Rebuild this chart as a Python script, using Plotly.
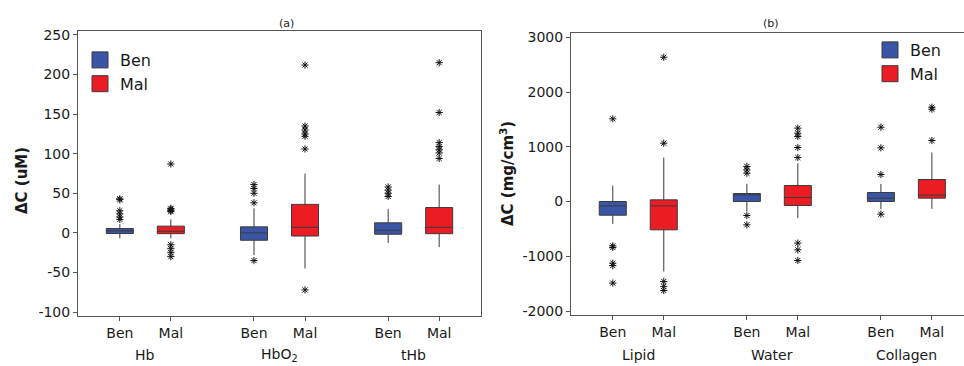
import plotly.graph_objects as go

# ---------------- data ----------------
groups = ["Ben", "Mal"]
left_categories = ["Hb", "HbO<sub>2</sub>", "tHb"]
right_categories = ["Lipid", "Water", "Collagen"]

# order: cat1 Ben, cat1 Mal, cat2 Ben, cat2 Mal, cat3 Ben, cat3 Mal
left_q1 = [-0.8, -1, -9.3, -4, -1.7, -1]
left_median = [2.5, 2, 0, 7, 3.4, 7]
left_q3 = [5.5, 8.5, 7.6, 36, 12.7, 32]
left_lower = [-7, -7, -28, -45, -12.7, -18]
left_upper = [11, 17, 31, 75, 30, 61]
left_outliers = [
    [43, 42, 28, 24, 20, 17],
    [87, 31, 30, 28, 27, -15, -20, -25, -30],
    [61, 56, 50, 38, -35],
    [212, 135, 130, 125, 122, 106, -72],
    [58, 54, 50, 46],
    [215, 152, 114, 109, 105, 101, 94],
]

right_q1 = [-250, -517, 0, -73, 0, 61]
right_median = [-80, -80, 120, 73, 61, 116]
right_q3 = [0, 30, 146, 292, 164, 402]
right_lower = [-408, -1278, -183, -304, -140, -134]
right_upper = [292, 803, 322, 700, 322, 895]
right_outliers = [
    [1510, -810, -840, -1126, -1170, -1490],
    [2635, 1065, -1460, -1550, -1625],
    [640, 578, 517, -256, -426],
    [1340, 1248, 1187, 986, 803, -760, -883, -1077],
    [1357, 980, 493, -231],
    [1722, 1686, 1114],
]

left_ticks = [-100, -50, 0, 50, 100, 150, 200, 250]
right_ticks = [-2000, -1000, 0, 1000, 2000, 3000]

# ---------------- style ----------------
FONT = "DejaVu Sans"
colors = {"Ben": "#3A55A6", "Mal": "#EC1C24"}
edge = "#3a3a3a"
GAP = 2.63
W, H = 964, 366

fig = go.Figure()


def positions(ncat):
    return [c * GAP + k for c in range(ncat) for k in range(len(groups))]


def add_panel(xa, ya, q1, med, q3, lo, up, outs):
    pos = positions(3)
    for i, p in enumerate(pos):
        g = groups[i % 2]
        fig.add_trace(go.Box(
            x=[p], q1=[q1[i]], median=[med[i]], q3=[q3[i]],
            lowerfence=[lo[i]], upperfence=[up[i]],
            width=0.53, whiskerwidth=0, boxpoints=False,
            fillcolor=colors[g], line=dict(color=edge, width=1),
            showlegend=False, xaxis=xa, yaxis=ya, hoverinfo="skip"))
        fig.add_trace(go.Scatter(
            x=[p] * len(outs[i]), y=outs[i], mode="markers",
            marker=dict(symbol="asterisk-open", size=6, color="#111",
                        line=dict(color="#111", width=1)),
            showlegend=False, xaxis=xa, yaxis=ya, hoverinfo="skip"))


add_panel("x", "y", left_q1, left_median, left_q3, left_lower, left_upper, left_outliers)
add_panel("x2", "y2", right_q1, right_median, right_q3, right_lower, right_upper, right_outliers)

# legend entries
for lg in ["legend", "legend2"]:
    for g in groups:
        fig.add_trace(go.Scatter(
            x=[None], y=[None], mode="markers", name=g, legend=lg,
            marker=dict(symbol="square", size=16, color=colors[g],
                        line=dict(color=edge, width=1)),
            xaxis="x" if lg == "legend" else "x2",
            yaxis="y" if lg == "legend" else "y2"))

tick_vals = positions(3)
tick_text = groups * 3

axis_common = dict(showline=True, linecolor="#555", linewidth=1, ticks="outside",
                   ticklen=4, tickcolor="#555", showgrid=False, zeroline=False,
                   automargin=False,
                   tickfont=dict(family=FONT, size=14, color="#1a1a1a"))

fig.update_layout(
    width=W, height=H,
    margin=dict(l=0, r=0, t=0, b=0, autoexpand=False),
    paper_bgcolor="white", plot_bgcolor="white",
    font=dict(family=FONT, color="#1a1a1a"),
    xaxis=dict(domain=[78 / W, 481 / W], range=[-0.82, 7.08], anchor="y",
               tickvals=tick_vals, ticktext=tick_text, mirror=True, **axis_common),
    yaxis=dict(domain=[1 - 316 / H, 1 - 31 / H], range=[-105, 255], anchor="x",
               tickvals=left_ticks, ticktext=[str(v) for v in left_ticks],
               mirror=True, **axis_common),
    xaxis2=dict(domain=[571 / W, 1.0], range=[-0.82, 6.89], anchor="y2",
                tickvals=tick_vals, ticktext=tick_text, mirror=True, **axis_common),
    yaxis2=dict(domain=[1 - 315 / H, 1 - 33 / H], range=[-2073, 3078], anchor="x2",
                tickvals=right_ticks, ticktext=[str(v) for v in right_ticks],
                mirror=False, **axis_common),
    legend=dict(x=80 / W, y=1 - 43 / H, xanchor="left", yanchor="top",
                font=dict(family=FONT, size=16, color="#1a1a1a"),
                bgcolor="rgba(0,0,0,0)", tracegroupgap=0),
    legend2=dict(x=870 / W, y=1 - 33 / H, xanchor="left", yanchor="top",
                 font=dict(family=FONT, size=16, color="#1a1a1a"),
                 bgcolor="rgba(0,0,0,0)", tracegroupgap=0),
)

ann = []
for c, name in enumerate(left_categories):
    ann.append(dict(x=c * GAP + 0.5, y=1 - 355 / H, xref="x", yref="paper", text=name,
                    showarrow=False, font=dict(family=FONT, size=14, color="#1a1a1a"),
                    xanchor="center", yanchor="middle"))
for c, name in enumerate(right_categories):
    ann.append(dict(x=c * GAP + 0.5, y=1 - 355 / H, xref="x2", yref="paper", text=name,
                    showarrow=False, font=dict(family=FONT, size=14, color="#1a1a1a"),
                    xanchor="center", yanchor="middle"))
ann.append(dict(x=277 / W, y=1 - 15 / H, xref="paper", yref="paper", text="(a)",
                showarrow=False, font=dict(family=FONT, size=11, color="#1a1a1a")))
ann.append(dict(x=781 / W, y=1 - 15 / H, xref="paper", yref="paper", text="(b)",
                showarrow=False, font=dict(family=FONT, size=11, color="#1a1a1a")))
ann.append(dict(x=22 / W, y=1 - 181 / H, xref="paper", yref="paper", text="<b>ΔC (uM)</b>",
                textangle=-90, showarrow=False, xanchor="center", yanchor="middle",
                font=dict(family=FONT, size=15, color="#1a1a1a")))
ann.append(dict(x=507 / W, y=1 - 174 / H, xref="paper", yref="paper",
                text="<b>ΔC (mg/cm<sup>3</sup>)</b>",
                textangle=-90, showarrow=False, xanchor="center", yanchor="middle",
                font=dict(family=FONT, size=15, color="#1a1a1a")))
fig.update_layout(annotations=ann)

fig.write_html("out.html", config={"displayModeBar": False},
               post_script="document.body.style.margin='0';document.body.style.overflow='hidden';")
